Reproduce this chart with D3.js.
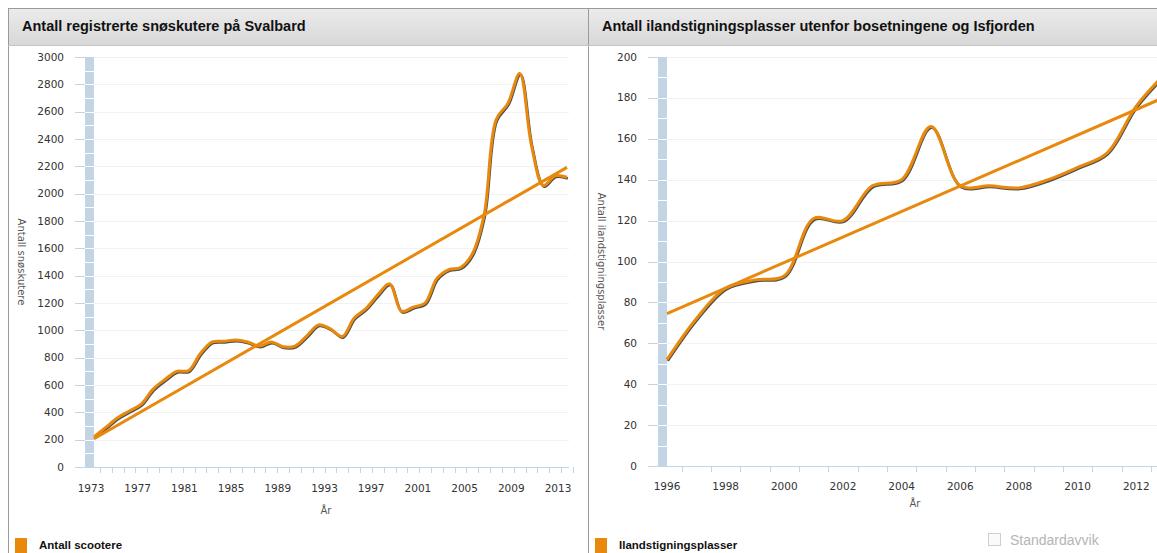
<!DOCTYPE html>
<html>
<head>
<meta charset="utf-8">
<title>Snøskutere og ilandstigningsplasser</title>
<script src="https://d3js.org/d3.v7.min.js"></script>
<style>
    body { margin: 0; background: #fff; }
    .title { font: bold 14.5px "Liberation Sans", Arial, sans-serif; fill: #111; }
    .tick-label { font: 10.5px "DejaVu Sans", sans-serif; fill: #333; }
    .axis-title { font: 10px "DejaVu Sans", sans-serif; fill: #555; }
    .legend-text { font: bold 11.5px "Liberation Sans", Arial, sans-serif; fill: #111; }
</style>
</head>
<body>
<svg width="1157" height="553"></svg>
<script>
// ---- data ----
const scooterYears = [1973, 1974, 1975, 1976, 1977, 1978, 1979, 1980, 1981, 1982,
    1983, 1984, 1985, 1986, 1987, 1988, 1989, 1990, 1991, 1992,
    1993, 1994, 1995, 1996, 1997, 1998, 1999, 2000, 2001, 2002,
    2003, 2004, 2005, 2006, 2007, 2008, 2009, 2010, 2011, 2012, 2013];
const scooterValues = [220, 290, 360, 410, 460, 570, 640, 700, 705, 830,
    915, 920, 930, 915, 885, 915, 880, 885, 960, 1040,
    1010, 955, 1090, 1160, 1260, 1340, 1140, 1170, 1200, 1380,
    1445, 1460, 1560, 1850, 2540, 2660, 2880, 2350, 2060, 2130, 2120];
const scooterYTicks = [0, 200, 400, 600, 800, 1000, 1200, 1400, 1600, 1800, 2000, 2200, 2400, 2600, 2800, 3000];
const scooterXLabels = [1973, 1977, 1981, 1985, 1989, 1993, 1997, 2001, 2005, 2009, 2013];

const landingYears = [1996, 1997, 1998, 1999, 2000, 2001, 2002, 2003, 2004,
    2005, 2006, 2007, 2008, 2009, 2010, 2011, 2012, 2013];
const landingValues = [52, 72, 87, 91, 93, 121, 120, 137, 140,
    166, 137, 137, 136, 140, 146, 153, 176, 192];
const landingYTicks = [0, 20, 40, 60, 80, 100, 120, 140, 160, 180, 200];
const landingXLabels = [1996, 1998, 2000, 2002, 2004, 2006, 2008, 2010, 2012];

const orange = "#e8890d";
const paleBlue = "#c3d4e5";

const svg = d3.select("svg");

const defs = svg.append("defs");
const grad = defs.append("linearGradient").attr("id", "hdr").attr("x1", 0).attr("y1", 0).attr("x2", 0).attr("y2", 1);
grad.append("stop").attr("offset", "0%").attr("stop-color", "#ebebeb");
grad.append("stop").attr("offset", "100%").attr("stop-color", "#d8d8d8");

// least squares trend, as the original chart does
function trend(xs, ys) {
    const mx = d3.mean(xs), my = d3.mean(ys);
    let num = 0, den = 0;
    xs.forEach((x, i) => { num += (x - mx) * (ys[i] - my); den += (x - mx) * (x - mx); });
    const k = num / den;
    return x => my + k * (x - mx);
}

function drawPanel(p) {
    const g = svg.append("g");

    // frame + header
    g.append("rect").attr("x", p.left + 0.5).attr("y", 8.5).attr("width", p.width).attr("height", 600)
        .attr("fill", "#fff").attr("stroke", "#9a9a9a");
    g.append("rect").attr("x", p.left + 1).attr("y", 9).attr("width", p.width - 1).attr("height", 36)
        .attr("fill", "url(#hdr)");
    g.append("line").attr("x1", p.left).attr("x2", p.left + p.width).attr("y1", 45.5).attr("y2", 45.5)
        .attr("stroke", "#c4c4c4");
    g.append("text").attr("class", "title").attr("x", p.left + 14).attr("y", 31).text(p.title);

    const x = d3.scaleLinear().domain(p.xDomain).range(p.xRange);
    const y = d3.scaleLinear().domain([0, d3.max(p.yTicks)]).range([p.bottom, 57]);
    const labelX = p.labelRange ? d3.scaleLinear().domain(p.xDomain).range(p.labelRange) : x;

    const plotL = p.xRange[0], plotR = p.plotRight;

    // grid
    g.append("g").selectAll("line").data(p.yTicks.filter(d => d > 0)).join("line")
        .attr("x1", plotL).attr("x2", plotR)
        .attr("y1", d => Math.round(y(d)) + 0.5).attr("y2", d => Math.round(y(d)) + 0.5)
        .attr("stroke", "#f2f2f2");

    // y ticks and labels
    g.append("g").selectAll("line").data(p.yTicks).join("line")
        .attr("x1", plotL - 19).attr("x2", plotL - 9)
        .attr("y1", d => Math.round(y(d)) + 0.5).attr("y2", d => Math.round(y(d)) + 0.5)
        .attr("stroke", paleBlue);
    g.append("g").selectAll("text").data(p.yTicks).join("text")
        .attr("class", "tick-label").attr("text-anchor", "end")
        .attr("x", plotL - 30).attr("y", d => y(d) + 3.5).text(d => d);

    // pale band along the value axis
    const step = p.yTicks[1] / 2;
    g.append("rect").attr("x", plotL - 9).attr("y", y(d3.max(p.yTicks))).attr("width", 9)
        .attr("height", p.bottom - y(d3.max(p.yTicks))).attr("fill", paleBlue);
    g.append("g").selectAll("line").data(d3.range(step, d3.max(p.yTicks), step)).join("line")
        .attr("x1", plotL - 9).attr("x2", plotL)
        .attr("y1", d => Math.round(y(d)) + 0.5).attr("y2", d => Math.round(y(d)) + 0.5)
        .attr("stroke", "#fff");

    // x axis
    g.append("line").attr("x1", plotL - 19).attr("x2", plotR).attr("y1", p.bottom + 0.5).attr("y2", p.bottom + 0.5)
        .attr("stroke", paleBlue);
    g.append("g").selectAll("line").data(p.years.map(d => d + 0.5)).join("line")
        .attr("x1", d => Math.round(x(d)) + 0.5).attr("x2", d => Math.round(x(d)) + 0.5)
        .attr("y1", p.bottom).attr("y2", p.bottom + 6)
        .attr("stroke", paleBlue);
    g.append("g").selectAll("text").data(p.xLabels).join("text")
        .attr("class", "tick-label").attr("text-anchor", "middle")
        .attr("x", d => labelX(d)).attr("y", p.xLabelY).text(d => d);
    g.append("text").attr("class", "axis-title").attr("text-anchor", "middle")
        .attr("x", p.arX).attr("y", p.arY).text("År");

    // y axis title, reading downwards
    g.append("text").attr("class", "axis-title").attr("text-anchor", "middle")
        .attr("transform", `translate(${p.left + 10},${(p.bottom + 57) / 2}) rotate(90)`)
        .text(p.yTitle);

    // series, with a thin dark shadow underneath
    const pts = p.years.map((yr, i) => [yr, p.values[i]]);
    const line = d3.line().x(d => x(d[0])).y(d => y(d[1])).curve(d3.curveCatmullRom.alpha(0.5));
    g.append("path").attr("d", line(pts)).attr("fill", "none")
        .attr("stroke", "#222").attr("stroke-opacity", 0.8).attr("stroke-width", 2.6)
        .attr("transform", "translate(0.8,1.2)").attr("stroke-linejoin", "round");
    g.append("path").attr("d", line(pts)).attr("fill", "none")
        .attr("stroke", orange).attr("stroke-width", 3).attr("stroke-linejoin", "round");

    // trend line
    const t = trend(p.years, p.values);
    const y0 = p.years[0], y1 = p.years[p.years.length - 1];
    g.append("line").attr("x1", x(y0)).attr("y1", y(t(y0))).attr("x2", x(y1)).attr("y2", y(t(y1)))
        .attr("stroke", orange).attr("stroke-width", 3);

    // legend
    g.append("rect").attr("x", p.left + 7).attr("y", 538).attr("width", 12).attr("height", 15).attr("fill", orange);
    g.append("text").attr("class", "legend-text").attr("x", p.left + 31).attr("y", 549).text(p.legend);
}

drawPanel({
    left: 8, width: 580,
    title: "Antall registrerte snøskutere på Svalbard",
    years: scooterYears, values: scooterValues,
    yTicks: scooterYTicks, xLabels: scooterXLabels,
    xDomain: [1973, 2013], xRange: [94, 567], labelRange: [91, 558], plotRight: 569,
    bottom: 467, xLabelY: 492, arX: 326, arY: 514,
    yTitle: "Antall snøskutere", legend: "Antall scootere"
});

drawPanel({
    left: 588, width: 600,
    title: "Antall ilandstigningsplasser utenfor bosetningene og Isfjorden",
    years: landingYears, values: landingValues,
    yTicks: landingYTicks, xLabels: landingXLabels,
    xDomain: [1996, 2013], xRange: [667, 1165.6], plotRight: 1170,
    bottom: 466, xLabelY: 490, arX: 915, arY: 507,
    yTitle: "Antall ilandstigningsplasser", legend: "Ilandstigningsplasser"
});

// "Standardavvik" toggle, unticked
svg.append("rect").attr("x", 988.5).attr("y", 533.5).attr("width", 12).attr("height", 12)
    .attr("fill", "#fafafa").attr("stroke", "#cfcfcf");
svg.append("text").attr("x", 1010).attr("y", 545)
    .style("font", "14px 'Liberation Sans', Arial, sans-serif").attr("fill", "#b5b5b5")
    .text("Standardavvik");
</script>
</body>
</html>
